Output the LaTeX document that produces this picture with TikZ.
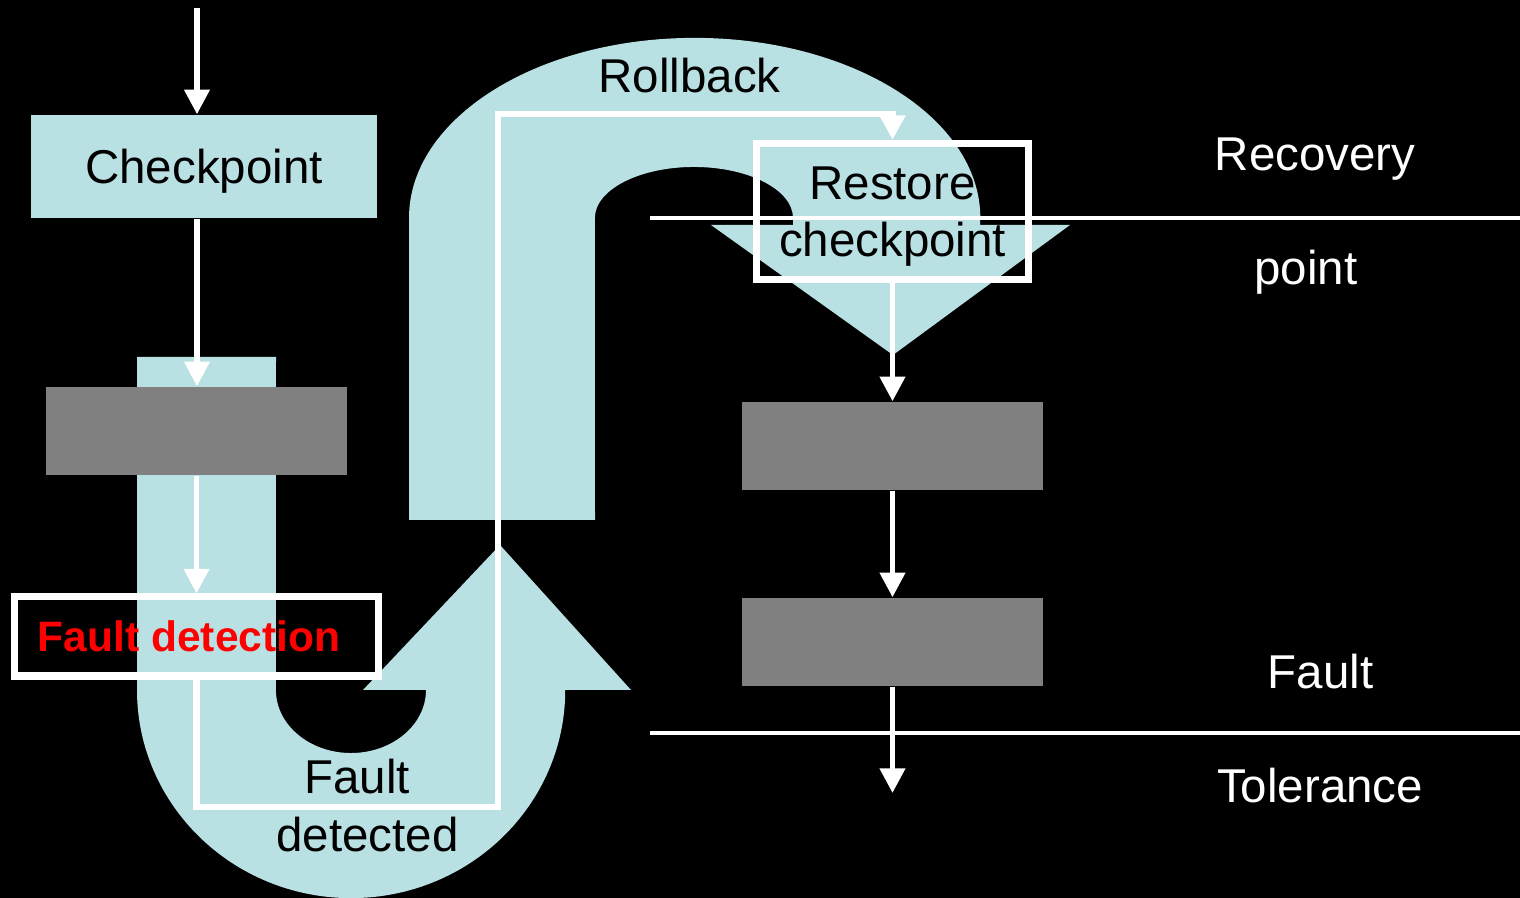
\documentclass[tikz,border=0pt]{standalone}
\usepackage{fontspec}
\setmainfont{Liberation Sans}
\usepackage{xcolor}
\usepackage{tikz}
\usetikzlibrary{positioning,arrows.meta,calc}
\definecolor{pipe}{RGB}{185,224,227}
\definecolor{slabgray}{RGB}{128,128,128}

\begin{document}
\begin{tikzpicture}[
    x=0.01cm,y=0.01cm,
    txt/.style={font=\fontsize{13.5}{16}\selectfont,inner sep=0pt,anchor=base},
    slab/.style={fill=slabgray,minimum width=3.01cm,minimum height=0.88cm,inner sep=0pt},
    frame/.style={draw=white,line width=2pt,inner sep=0pt},
    arr/.style={white,line width=1.5pt,-{Triangle[width=7pt,length=7pt]}},
    rule/.style={white,line width=0.9pt}
  ]
    \useasboundingbox (0,0) rectangle (1520,-898);
    \fill[black] (0,0) rectangle (1520,-898);
    \fill[pipe] (137,-357) -- (137,-690) arc[start angle=180,end angle=360,x radius=2.14cm,y radius=2.08cm]
      -- (631,-690) -- (500,-545) -- (363,-690) -- (426,-690)
      arc[start angle=0,end angle=-180,x radius=0.75cm,y radius=0.63cm] -- (276,-357) -- cycle;
    \fill[pipe] (409,-520) -- (409,-218) arc[start angle=180,end angle=0,x radius=2.855cm,y radius=1.8cm]
      -- (980,-225) -- (1070,-225) -- (893,-355) -- (711,-225) -- (793,-225) -- (793,-218)
      arc[start angle=0,end angle=180,x radius=0.99cm,y radius=0.51cm] -- (595,-520) -- cycle;
    \draw[rule] (650,-218) -- (1520,-218);
    \draw[rule] (650,-733) -- (1520,-733);
    \node[fill=pipe,minimum width=3.46cm,minimum height=1.03cm,inner sep=0pt,
      font=\fontsize{13.5}{16}\selectfont,text depth=0pt] (chk) at (204,-166.5) {Checkpoint};
    \node[slab] (g0) at (196.5,-431) {};
    \foreach \n/\y in {g1/-446,g2/-642}{
      \node[slab] (\n) at (892.5,\y) {};
    }
    \node[frame,minimum width=3.63cm,minimum height=0.79cm,text=red,
      font=\bfseries\fontsize{12.1}{14}\selectfont] (fd) at (196.5,-636.5) {Fault detection\hspace*{4.2pt}};
    \node[frame,minimum width=2.71cm,minimum height=1.36cm,align=center,
      font=\fontsize{13.5}{16.2}\selectfont,text depth=0pt] (rs) at (892.5,-211.5) {Restore\\checkpoint};
    \coordinate (in) at (197,-8);
    \coordinate (out) at (892.5,-793);
    \draw[arr] (in) -- (in |- chk.north);
    \draw[arr] (in |- chk.south) -- (in |- g0.north);
    \draw[arr] (g0.south) -- (fd.north);
    \draw[arr,line width=1.8pt] (fd.south) |- (498,-807) -- (498,-114) -| (rs.north);
    \draw[arr] (rs.south) -- (g1.north);
    \draw[arr] (g1.south) -- (g2.north);
    \draw[arr] (g2.south) -- (out);
    \node[txt] (rollback) at (689.5,-93) {Rollback};
    \node[txt] (fault) at (357,-794) {Fault};
    \node[txt] (detected) at (367.5,-852) {detected};
    \node[txt,white] (recovery) at (1315,-171) {Recovery};
    \node[txt,white] (point) at (1306,-285) {point};
    \node[txt,white] (faultr) at (1320.5,-689) {Fault};
    \node[txt,white] (tolerance) at (1320,-803) {Tolerance};
  \end{tikzpicture}
\end{document}
